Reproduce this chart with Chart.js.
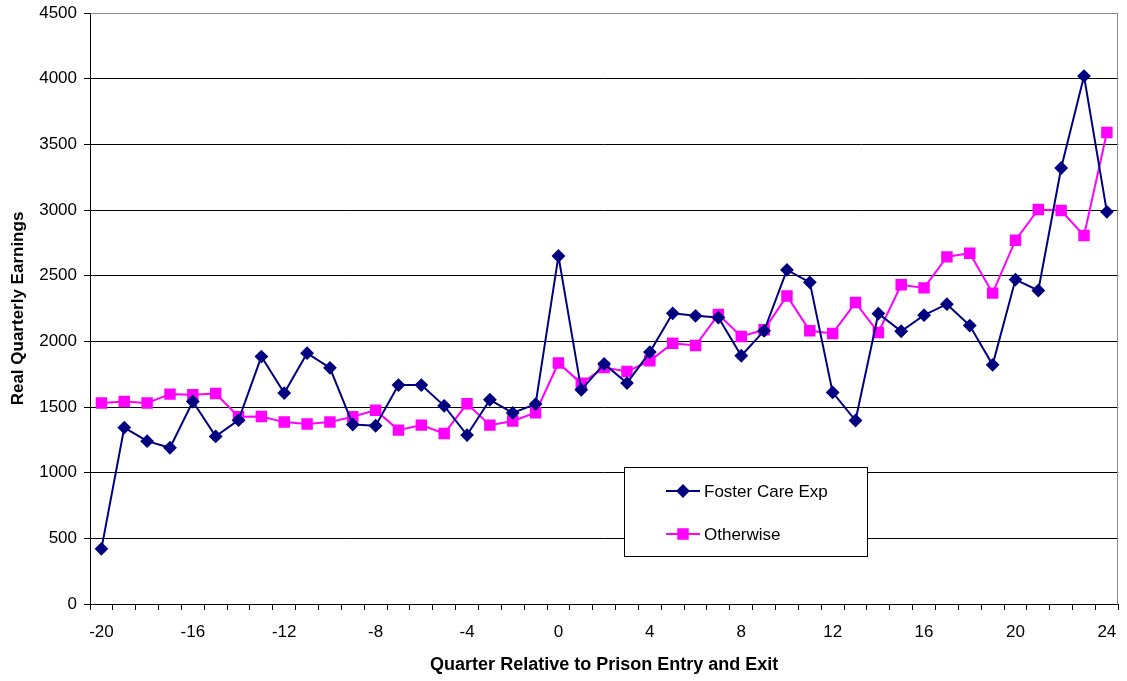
<!DOCTYPE html>
<html>
<head>
<meta charset="utf-8">
<script src="https://cdn.jsdelivr.net/npm/chart.js@4/dist/chart.umd.min.js"></script>
<style>
  html, body { margin: 0; padding: 0; background: #fff; }
  #wrap { width: 1127px; height: 681px; position: relative; }
</style>
</head>
<body>
<div id="wrap"><canvas id="c" width="1127" height="681"></canvas></div>
<script>
// Quarters relative to prison entry (-20 .. -1) and exit (0 .. 24)
const quarters = [-20,-19,-18,-17,-16,-15,-14,-13,-12,-11,-10,-9,-8,-7,-6,-5,-4,-3,-2,-1,
                  0,1,2,3,4,5,6,7,8,9,10,11,12,13,14,15,16,17,18,19,20,21,22,23,24];

// Real quarterly earnings, people with foster care experience
const fosterCare = [420,1343,1240,1190,1542,1276,1400,1884,1606,1910,1798,1367,1357,1667,1667,1509,1286,1555,1455,1522,
                    2650,1631,1828,1682,1918,2213,2194,2181,1890,2080,2544,2449,1611,1397,2211,2077,2199,2283,2120,1821,2470,2387,3320,4020,2986];

// Real quarterly earnings, everyone else
const otherwise = [1530,1542,1530,1598,1593,1603,1426,1428,1385,1370,1385,1426,1476,1324,1362,1298,1524,1362,1393,1456,
                   1835,1680,1800,1770,1852,1986,1968,2204,2037,2088,2346,2081,2060,2295,2067,2430,2407,2643,2671,2367,2770,3004,2996,2805,3590];

// Y axis range and step
const yTicks = { min: 0, max: 4500, step: 500 };

const FONT = "'Liberation Sans', Arial, sans-serif";

// Gray frame on the top and right side of the plot area
const frame = {
  id: 'frame',
  beforeDatasetsDraw(chart) {
    const { ctx, chartArea: a } = chart;
    ctx.save();
    ctx.strokeStyle = '#8c8c8c';
    ctx.lineWidth = 1;
    ctx.beginPath();
    ctx.moveTo(Math.round(a.left) + 0.5, Math.round(a.top) + 0.5);
    ctx.lineTo(Math.round(a.right) - 0.5, Math.round(a.top) + 0.5);
    ctx.lineTo(Math.round(a.right) - 0.5, Math.round(a.bottom) + 0.5);
    ctx.stroke();
    ctx.restore();
  }
};

// Boxed legend placed inside the plot area
const boxLegend = {
  id: 'boxLegend',
  afterDatasetsDraw(chart) {
    const { ctx } = chart;
    const box = { x: 624, y: 467, w: 243, h: 89 };
    ctx.save();
    ctx.fillStyle = '#fff';
    ctx.fillRect(box.x, box.y, box.w, box.h);
    ctx.strokeStyle = '#000';
    ctx.lineWidth = 1;
    ctx.strokeRect(box.x + 0.5, box.y + 0.5, box.w, box.h);
    const rows = [491, 534];
    chart.data.datasets.forEach((ds, i) => {
      const y = rows[i];
      ctx.strokeStyle = ds.borderColor;
      ctx.lineWidth = 2;
      ctx.beginPath();
      ctx.moveTo(666, y);
      ctx.lineTo(700, y);
      ctx.stroke();
      Chart.helpers.drawPoint(ctx, {
        pointStyle: ds.pointStyle,
        radius: ds.pointRadius,
        rotation: 0,
        borderWidth: 1
      }, 683, y);
      ctx.fillStyle = ds.pointBackgroundColor;
      ctx.fill();
      ctx.fillStyle = '#000';
      ctx.font = '17px ' + FONT;
      ctx.textBaseline = 'middle';
      ctx.textAlign = 'left';
      ctx.fillText(ds.label, 704, y + 1);
    });
    ctx.restore();
  }
};

new Chart(document.getElementById('c'), {
  type: 'line',
  data: {
    labels: quarters.map(String),
    datasets: [
      {
        label: 'Foster Care Exp',
        data: fosterCare,
        borderColor: '#000080',
        backgroundColor: '#000080',
        pointBackgroundColor: '#000080',
        pointBorderColor: '#000080',
        pointStyle: 'rectRot',
        pointRadius: 5.5,
        borderWidth: 2,
        tension: 0
      },
      {
        label: 'Otherwise',
        data: otherwise,
        borderColor: '#ff00ff',
        backgroundColor: '#ff00ff',
        pointBackgroundColor: '#ff00ff',
        pointBorderColor: '#ff00ff',
        pointStyle: 'rect',
        pointRadius: 6.7,
        borderWidth: 2,
        tension: 0
      }
    ]
  },
  options: {
    responsive: false,
    animation: false,
    layout: { padding: { top: 13, right: 7, left: 0, bottom: 0 } },
    plugins: {
      legend: { display: false },
      tooltip: { enabled: false }
    },
    scales: {
      x: {
        type: 'category',
        offset: true,
        grid: {
          offset: true,
          drawOnChartArea: false,
          drawTicks: true,
          tickLength: 6,
          color: '#000'
        },
        border: { display: true, color: '#000', width: 1 },
        ticks: {
          autoSkip: false,
          maxRotation: 0,
          padding: 12,
          color: '#000',
          font: { family: FONT, size: 17 },
          callback: function (value, index) {
            return index % 4 === 0 ? this.getLabelForValue(value) : '';
          }
        },
        title: {
          display: true,
          text: 'Quarter Relative to Prison Entry and Exit',
          color: '#000',
          font: { family: FONT, size: 18, weight: 'bold' },
          padding: { top: 0, bottom: 5 }
        },
        afterFit(scale) {
          scale.height = 77;
          scale.paddingLeft = 0;
          scale.paddingRight = 0;
        }
      },
      y: {
        min: yTicks.min,
        max: yTicks.max,
        grid: {
          color: (c) => (c.tick && c.tick.value === yTicks.max ? '#8c8c8c' : '#000'),
          tickColor: '#000',
          tickLength: 6,
          lineWidth: 1
        },
        border: { display: true, color: '#000', width: 1 },
        ticks: {
          stepSize: yTicks.step,
          padding: 7,
          color: '#000',
          font: { family: FONT, size: 17 },
          callback: (v) => String(v)
        },
        title: {
          display: true,
          text: 'Real Quarterly Earnings',
          color: '#000',
          font: { family: FONT, size: 17, weight: 'bold' },
          padding: { top: 8, bottom: 0 }
        },
        afterFit(scale) {
          scale.width = 90;
          scale.paddingTop = 0;
          scale.paddingBottom = 0;
        }
      }
    }
  },
  plugins: [frame, boxLegend]
});
</script>
</body>
</html>
